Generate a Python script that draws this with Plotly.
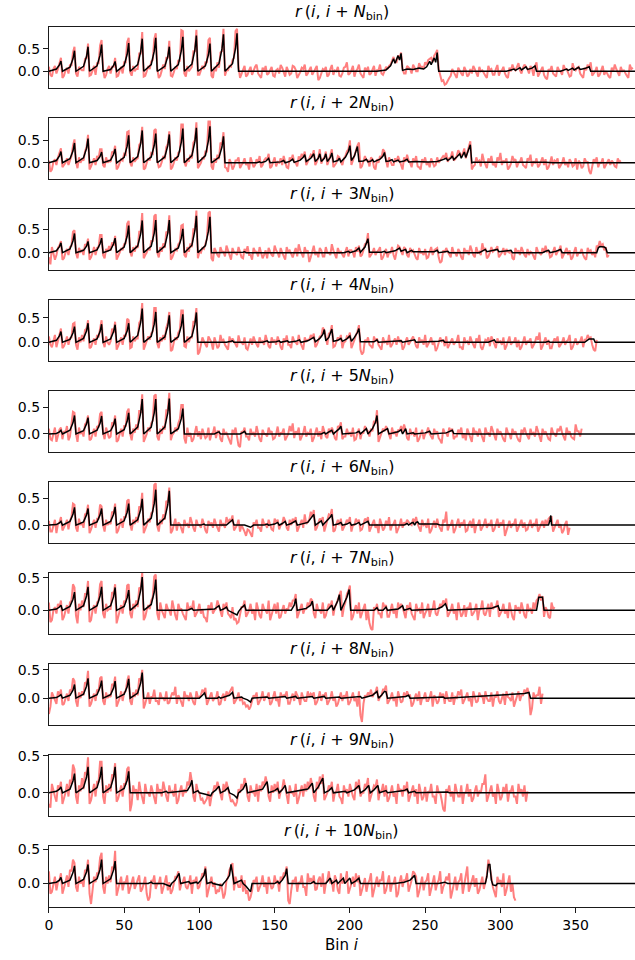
import plotly.graph_objects as go

# ---------------- red (noisy) series: values at even bins 0,2,4,... ----------------
red1 = [.10,-.12,.12,.05,.30,-.10,.08,.15,.42,-.05,.10,.02,.28,.62,-.08,.12,.18,.58,.05,-.08,
        .12,.10,.30,-.10,.10,.20,.65,-.02,.12,.05,.40,.88,-.10,.12,.22,.72,.05,-.10,.15,.30,
        .68,-.12,.10,.25,.92,-.05,.12,.05,.45,.93,-.08,.12,.20,.70,-.10,.10,.20,.42,.95,.02,
        .12,.25,.90,.10,-.05,.12,-.08,.10,.02,.15,-.10,.08,.12,-.05,.10,-.12,.05,.14,-.02,.10,
        -.08,.12,.03,-.10,.08,.15,-.05,.10,.00,.12,-.15,.05,.10,-.08,.14,.02,.10,-.12,.08,.20,
        -.05,.12,.00,.15,-.10,.08,.10,-.05,.12,.02,.15,-.08,.10,.12,.25,.20,.35,.42,-.05,.12,
        .05,.15,.00,.18,.10,.20,.25,.30,.35,.48,-.10,-.20,-.28,-.15,.05,-.10,.08,-.05,.10,-.12,
        .05,.12,-.05,.10,.02,-.10,.12,.05,-.08,.14,.00,.10,-.12,.08,.15,.02,.18,-.05,.15,.05,
        .12,-.10,.20,-.05,.10,-.15,.05,.12,-.08,.10,.00,.14,.05,-.12,.18,.02,.10,-.10,.08,.15,
        .20,-.05,.10,-.08,.12,.00,-.12,.08,.15,-.05,.10,.02,-.10,.15,.08]
red2 = [.05,-.15,.08,.12,.32,-.05,.10,.05,.38,.02,.12,.08,.25,.62,-.08,.10,.15,.30,-.05,.12,
        .05,.25,.38,-.10,.08,.20,.68,.00,.12,.08,.40,.80,-.12,.10,.22,.72,.05,-.08,.15,.35,
        .70,-.10,.12,.22,.85,.02,.10,.18,.45,.90,-.05,.12,.25,.92,-.08,.10,.18,.45,.68,-.12,
        .08,-.15,.05,.12,-.05,.10,.00,.12,-.10,.08,.15,-.05,.10,.20,-.08,.12,.02,.10,.15,-.10,
        .12,.18,.00,.14,.20,.25,.05,.18,.28,.02,.30,.08,.25,.05,.30,-.05,.15,.02,.10,.25,
        .50,.05,.30,.45,-.08,.15,.05,.12,-.10,.08,.15,.30,.05,.12,-.05,.10,.15,-.08,.12,.18,
        .00,.10,.15,-.10,.08,.12,.02,.10,-.08,.12,.05,.15,.22,.10,.25,.08,.28,.15,.32,.25,
        .48,-.08,.12,.05,.20,-.05,.10,.15,-.02,.12,.22,.05,.10,-.10,.15,.08,.00,.12,-.08,.10,
        .18,.02,.10,-.05,.12,.08,-.10,.14,.05,.10,-.05,.12,.02,.08,-.08,.10,.05,-.12,.10,.02,
        -.25,.08,.12,.00,.10,-.05,.08,.05,-.08,.10,.05]
red3 = [-.10,.12,-.15,.10,.25,-.12,.08,.12,.45,.00,.10,.05,.18,.30,-.10,.12,.10,.38,-.05,.08,
        .14,.22,.36,-.08,.10,.18,.62,.02,.12,.15,.45,.85,-.05,.10,.25,.78,.00,.12,.20,.45,
        .80,-.10,.08,.18,.58,-.05,.12,.20,.50,.90,.02,.10,.22,.85,-.12,.10,-.05,.12,.02,.15,
        -.08,.10,.00,.12,-.10,.08,.14,-.05,.10,.02,.12,-.12,.05,.10,-.05,.15,.00,.10,-.08,.12,
        .05,-.10,.10,.18,-.02,.12,.05,-.10,.15,.02,.10,-.08,.12,.00,.18,-.05,.10,.02,-.10,.12,
        .05,.00,.12,.15,-.05,.18,.42,-.05,.10,.02,.12,-.10,.08,.00,.12,-.15,.15,.05,.12,-.05,
        .10,.05,-.12,.10,.00,.08,-.10,.12,.05,.10,-.22,.05,.10,-.05,.12,.00,.08,-.10,.10,.05,
        .15,-.05,.12,.02,.20,.10,-.08,.12,.05,.14,-.05,.10,.08,.00,-.12,.10,.05,.12,-.05,.08,
        .02,-.10,.12,.00,.10,.15,.05,-.08,.12,.02,.15,-.05,.10,.05,-.10,.12,.00,.08,-.12,.10,
        .05,.02,.15,.25,.18,.12,-.05]
red4 = [.12,-.10,.15,.05,.28,-.08,.12,.08,.38,-.05,.10,.15,.25,.45,-.10,.08,.15,.30,.02,.12,
        -.05,.28,.42,-.08,.10,.15,.48,-.12,.12,.08,.40,.80,-.05,.12,.18,.70,-.02,.10,.15,.30,
        .62,-.15,.10,.20,.65,-.08,.12,.10,.42,.70,-.20,.10,-.05,.12,.00,.10,-.12,.15,.05,-.10,
        .12,.08,-.05,.14,.00,.10,-.15,.08,.12,-.05,.10,.02,.15,-.08,.10,.05,.12,-.10,.08,.14,
        -.05,.12,.00,.15,-.10,.10,.05,.15,.18,-.05,.12,.30,.05,.18,.35,-.08,.10,.15,.00,.12,
        .20,-.05,.15,.35,-.25,.05,.10,-.08,.12,.08,-.10,.10,.02,.15,-.05,.08,.12,.05,-.10,.10,
        .00,.12,-.08,.10,.05,.15,-.05,.10,.02,-.12,.10,.05,.12,-.05,.08,.00,.15,-.10,.10,.02,
        .12,-.05,.08,.15,-.15,.05,.10,.12,-.05,.08,.02,.10,-.08,.12,.00,.10,.05,-.10,.12,.02,
        .08,-.05,.12,.20,-.08,.10,.05,-.12,.08,.12,-.05,.10,.02,.15,-.10,.08,.00,.12,.05,.15,
        .10,-.15,.05]
red5 = [.10,-.12,.12,-.05,.12,.05,.15,-.05,.42,.00,.12,.05,.18,.35,-.10,.10,.15,.38,.02,.12,
        -.08,.22,.35,-.12,.10,.15,.42,.00,.10,.18,.45,.75,-.08,.12,.20,.72,-.05,.10,.15,.45,
        .78,-.02,.12,.20,.55,-.08,.12,.02,-.10,.15,.05,.10,-.08,.12,.00,.14,.05,-.10,.10,.02,
        -.15,.08,.12,-.22,.05,.12,-.05,.10,.02,.15,-.10,.08,.00,.12,.05,-.08,.14,.02,.10,-.05,
        .15,.20,.05,.12,-.05,.15,.02,.10,-.08,.12,.05,.15,-.05,.10,.12,-.08,.15,.22,-.05,.10,
        .02,.12,-.10,.10,.02,.15,.05,.10,.25,.45,-.05,.10,.15,-.02,.12,.05,.08,.15,.18,-.08,
        .10,.02,.12,-.10,.08,.00,.12,-.05,.10,.05,-.12,.10,.02,.12,.10,-.05,.08,.12,.00,.10,
        -.10,.12,.05,.10,-.08,.12,.02,.15,-.05,.10,.05,-.10,.12,.00,.10,.05,-.12,.08,.12,-.05,
        .10,.02,.15,-.08,.10,.05,-.10,.12,.00,.10,.15,-.05,.12,.05,-.08,.18,.05,.10]
red6 = [.08,-.12,.10,.02,.15,-.05,.10,.08,.40,-.05,.12,.05,.20,.38,-.08,.10,.12,.38,.00,.10,
        .05,.25,.40,-.10,.12,.15,.45,.02,.10,.15,.35,.60,-.08,.12,.22,.75,-.02,.10,.20,.45,
        .70,-.10,.12,.05,-.08,.10,.02,.15,-.05,.10,.00,.12,-.10,.08,.05,.12,-.05,.10,.02,.15,
        .10,.18,-.05,.10,.00,-.12,-.08,-.15,.05,.10,-.05,.12,.02,.10,-.08,.12,.10,.00,.15,-.05,
        .10,.12,.15,-.05,.10,.20,.05,.25,.28,-.05,.12,.15,-.02,.20,.30,-.10,.10,.12,-.05,.10,
        .15,.00,.12,.10,-.08,.12,.15,-.05,.10,.02,.12,-.10,.08,.15,.00,.10,-.08,.12,.05,.10,
        .02,.12,.15,-.05,.10,.02,.12,-.10,.08,.12,-.05,.10,.25,.00,.10,-.08,.12,.05,.10,-.10,
        .08,.12,.00,.10,-.05,.12,.02,.10,-.08,.12,.05,.10,-.12,.08,.02,.12,-.05,.10,.05,-.08,
        .10,.02,.12,-.05,.08,.10,.12,.15,-.05,.10,.02,-.10,.08,-.05]
red7 = [.12,-.15,.05,.10,.15,-.10,.08,.12,.40,-.08,.10,.15,.25,.45,-.15,.08,.12,.40,-.05,.10,
        .02,.28,.40,-.12,.08,.15,.38,-.05,.10,.15,.35,.58,-.10,.08,.15,.52,-.05,.12,-.05,.10,
        .00,.15,-.08,.10,.02,-.10,.12,.05,.15,-.05,.10,.02,-.12,.08,.12,.00,.15,-.05,.10,.12,
        -.08,.05,-.12,-.18,.05,.15,-.05,.10,.02,.12,-.08,.10,.00,.15,-.05,.10,.12,-.10,.08,.02,
        .12,.15,.25,-.05,.10,.02,.12,.18,-.05,.10,.00,.12,-.08,.10,.15,.05,.18,.30,.05,.25,
        .38,-.10,.08,.12,-.05,.10,.00,-.28,.05,.10,-.05,.12,.08,-.10,.10,.02,.12,.10,-.05,.08,
        .12,-.10,.10,.02,.12,-.05,.10,.00,.15,-.08,.10,.15,.18,-.05,.10,.02,.12,-.10,.08,.05,
        .12,-.05,.10,.00,.15,-.08,.10,.12,.05,.15,-.05,.10,.02,.12,-.10,.08,.05,.12,-.08,.10,
        .02,.12,.15,.25,.22,.05,-.10,.12,.05]
red8 = [-.28,.10,-.05,.12,.15,-.10,.08,.15,.35,-.05,.10,.12,.28,.48,-.10,.08,.15,.35,-.05,.10,
        .05,.25,.38,-.08,.12,.10,.30,-.05,.10,.15,.35,.50,-.10,.10,.02,.15,-.05,.10,.00,.12,
        -.08,.10,.20,.05,-.10,.12,.05,.10,-.08,.12,.02,.15,.18,-.05,.10,.00,.12,-.10,.08,.12,
        .10,.20,-.05,.10,.02,-.08,-.12,-.15,.05,.10,-.05,.12,.02,.10,-.08,.12,.00,.10,.05,.12,
        -.10,.08,.12,.00,.10,-.05,.12,.08,.10,-.08,.12,.05,.10,-.05,.12,.02,-.10,.10,.05,.12,
        -.08,.10,.00,.12,-.42,.05,.10,.15,.08,.20,.02,.15,.22,-.05,.10,.02,.12,-.08,.10,.12,
        .05,-.10,.08,.12,.00,.10,-.05,.12,.05,-.10,.10,.08,.12,-.05,.10,.02,.12,.15,-.05,.10,
        .00,.12,-.08,.10,.05,.12,-.05,.10,.02,.12,-.10,.08,.12,.00,.10,-.05,.12,.05,.15,.18,
        -.30,.10,.05,.20,.08]
red9 = [-.15,.12,-.05,.10,.15,-.08,.12,.18,.38,-.05,.10,.20,.28,.48,-.10,.12,.15,.42,-.05,.10,
        .12,.25,.40,-.08,.10,.12,.32,-.25,.10,.05,.15,-.05,.12,.00,.10,-.08,.12,.05,.15,-.05,
        .10,.02,.12,-.10,.10,.05,.15,.28,-.05,.12,.00,-.08,-.12,.02,-.05,.10,.15,.00,.12,.15,
        -.05,-.10,-.18,.05,.12,.20,-.05,.10,.02,.12,.10,.15,.22,-.05,.10,.12,.15,.02,.18,-.05,
        .10,.00,.12,-.08,.10,.12,.15,.20,-.05,.15,.22,.25,-.05,.10,.15,.00,.12,-.08,.10,.05,
        .12,-.05,.15,.18,.00,.12,.20,-.05,.10,.18,.02,.12,.10,-.08,.10,.00,.12,.05,.10,.15,
        -.05,.10,.05,.12,-.10,.08,.02,.12,-.05,.10,.00,-.22,.05,.10,.02,.12,-.05,.10,.00,.12,
        .05,-.08,.10,.02,.12,.25,-.05,.10,.00,.12,-.10,.08,.12,.02,.10,-.05,.12,.05,.10,.02]
red10 = [.18,-.12,.10,.02,.15,-.08,.12,.20,.35,-.05,.10,.05,.20,.35,-.30,.10,.15,.38,-.05,.10,
         .12,.25,.48,-.10,.10,.02,.12,-.05,.10,.00,.12,-.08,.10,-.25,.05,.12,.00,.10,-.08,.12,
         .02,-.10,.10,.18,.00,.10,-.08,.12,.05,.10,-.05,.15,.25,-.08,.10,.02,-.10,.00,-.22,.05,
         .20,.30,.10,-.05,.12,.05,-.10,-.20,.05,.10,-.05,.12,.02,.10,-.08,.12,.05,.10,.15,.25,
         -.30,.05,.10,.02,.12,-.05,.15,.08,.12,-.08,.10,.15,.00,.18,.05,.12,-.10,.15,.05,.18,
         -.08,.10,.15,.12,-.10,.08,.00,.15,-.12,.10,.05,.18,-.10,.12,.00,.10,-.15,.12,.05,.15,
         -.05,.18,.10,-.12,.10,.02,.15,-.10,.12,.00,.18,-.05,.10,.15,-.12,.10,.02,.15,.00,.25,
         -.05,.12,.08,-.10,.10,.05,.35,.10,-.15,.10,.05,.15,-.10,.12,.00,-.25]

# ---------------- red (noisy) series: values at odd bins 1,3,5,... ----------------
odd1 = [-.08,.05,-.05,.18,-.15,.02,-.05,.12,.55,-.12,.05,.02,.30,-.10,.02,-.08,.18,.70,-.15,.05,
        -.05,.10,-.12,.02,-.05,.20,.75,-.10,.00,.05,.40,-.12,.00,.05,.25,.85,-.15,.02,.05,.30,
        -.10,-.02,.05,.22,.90,-.12,.00,.10,.45,-.08,.02,.05,.20,.75,-.15,.00,.08,.45,-.10,.02,
        .10,.30,.95,-.15,.05,-.12,.02,-.08,.10,-.05,-.15,.00,-.08,.05,-.10,.02,-.05,.08,-.12,.00,
        -.05,.10,-.15,-.02,.05,-.10,.02,-.08,.05,-.20,-.05,.02,-.12,.05,-.08,.00,-.10,-.05,.10,-.08,
        .02,-.12,.05,-.05,-.15,.00,-.08,.05,-.10,.02,-.05,.00,.05,.15,.32,.20,.30,.05,-.05,.08,
        -.05,.08,.00,.10,.05,.15,.28,.20,.40,.05,-.22,-.30,-.20,-.10,-.02,-.15,.00,-.10,.02,-.08,
        -.05,.05,-.12,.00,-.05,-.15,.02,-.08,.05,-.10,.02,-.05,-.15,.00,.05,.10,.02,.08,.10,-.05,
        .05,.12,-.12,.00,-.08,-.18,.00,-.05,-.12,.02,-.08,.05,-.05,-.10,.05,.08,-.05,-.15,.02,.08,
        -.10,.00,-.12,.02,-.08,-.05,-.15,.00,.05,-.10,.00,-.05,-.15,.05]
odd2 = [-.20,.02,-.05,.20,-.10,.00,-.05,.15,.52,-.12,.00,.05,.35,-.15,.02,-.05,.10,.30,-.10,.00,
        .02,.22,-.15,.00,.05,.18,.70,-.08,.02,.10,.45,-.15,.00,.05,.20,.75,-.10,.02,.08,.42,
        -.15,.00,.05,.25,.85,-.08,.02,.10,.50,-.12,.00,.08,.25,.92,-.15,.00,.08,.40,-.10,-.20,
        .00,-.08,.05,-.12,.00,-.05,-.15,.02,-.05,.00,-.10,.05,.08,-.12,.02,-.08,.00,-.05,.02,-.12,
        .05,.02,-.08,.08,.12,-.05,.10,.15,-.05,.12,-.02,.12,-.05,.15,-.10,.00,.12,-.05,.15,.30,
        -.05,.18,.38,-.12,.02,.05,-.08,.08,-.15,.00,.10,.25,-.10,.05,-.05,.02,.05,-.15,.02,.05,
        -.10,.02,-.08,-.15,.00,-.05,-.10,.02,-.05,.00,.08,.12,.02,.12,.05,.15,.22,.20,.10,.35,
        -.15,-.05,.02,-.08,.05,-.12,.00,-.05,-.10,.05,-.05,.00,-.15,-.02,.05,-.10,.02,-.05,-.12,.05,
        -.08,.00,-.10,.02,-.05,-.15,.00,-.05,.02,-.12,.00,-.05,-.10,.02,-.05,-.15,.00,-.08,.02,-.18,
        -.05,.02,-.10,.00,-.12,.02,-.05,.00,-.10,.02]
odd3 = [-.25,.00,-.05,.15,-.15,.00,-.05,.15,.48,-.12,.02,-.05,.15,-.15,.00,-.05,.12,.38,-.12,.02,
        .05,.15,-.15,.00,.05,.20,.68,-.08,.02,.10,.45,-.12,.00,.05,.25,.82,-.10,.02,.10,.42,
        -.15,.00,.05,.22,.60,-.10,.02,.12,.50,-.12,.00,.08,.30,.88,-.18,.00,-.10,.02,-.08,.05,
        -.15,.00,-.05,.02,-.12,.00,-.05,-.15,.02,-.08,.00,-.05,-.12,.02,-.08,.05,-.10,.00,-.15,.02,
        -.05,.00,-.08,.05,-.10,.00,-.20,.02,-.05,-.10,.05,-.08,.00,-.05,.05,-.12,.00,-.05,.02,-.08,
        .05,-.10,.02,-.08,.05,.20,-.10,.00,-.05,.05,-.15,.02,-.10,.00,-.05,.02,.12,-.05,.08,-.10,
        .02,-.05,-.15,.00,-.05,-.12,.02,-.05,.08,-.10,-.18,.00,.02,-.10,.00,-.08,.02,-.15,.00,-.05,
        .02,-.10,.00,-.05,.05,-.12,.00,.02,.08,-.10,.00,-.05,.02,.05,-.15,.00,-.05,.02,-.10,-.05,
        .00,-.15,.02,-.05,.00,.02,-.10,.00,-.05,.05,-.12,.00,-.05,-.15,.02,-.08,.00,-.05,-.15,.02,
        -.05,-.10,.12,.15,.05,-.10]
odd4 = [-.05,.02,-.10,.18,-.12,.00,-.05,.10,.40,-.15,.00,.02,.28,-.12,.00,-.05,.10,.45,-.10,.00,
        .02,.20,-.15,.02,-.05,.12,.45,-.10,.02,.08,.45,-.15,.00,.05,.22,.70,-.12,.02,.05,.40,
        -.18,.00,.05,.25,.65,-.10,.00,.10,.42,-.25,-.05,.02,-.10,.05,-.15,.00,-.08,.02,-.05,-.15,
        .00,.02,-.10,.00,-.05,-.12,.00,-.05,.02,-.10,.00,-.05,.02,-.12,.00,-.05,.02,-.15,.00,-.05,
        -.12,.02,-.05,.00,-.15,.02,.05,.08,-.10,.05,.12,.25,-.05,.20,-.10,.00,.05,-.12,.02,.10,
        -.12,.05,.22,-.15,-.20,.00,-.05,-.12,.02,-.05,-.15,.00,-.05,-.10,.02,-.05,.00,-.15,.02,-.05,
        .05,.02,-.12,.00,-.05,-.10,.02,-.05,-.18,.00,.02,-.08,-.12,.00,-.05,.02,-.10,-.15,.00,-.05,
        .02,-.12,.00,-.10,-.05,.02,-.08,.05,-.12,.00,-.05,-.15,.02,-.05,.00,-.10,-.15,.00,-.05,.02,
        -.12,.00,.05,-.15,.00,-.05,-.12,.00,.02,-.10,.00,-.05,.05,-.15,.00,-.05,.02,-.10,.05,.08,
        -.05,-.18]
odd5 = [-.10,.02,-.15,.08,-.10,.02,-.12,.15,.40,-.15,.00,-.05,.22,-.12,.00,-.05,.12,.42,-.10,.02,
        -.05,.18,-.15,.00,-.05,.15,.48,-.12,.02,.08,.40,-.15,.00,.05,.25,.75,-.12,.00,.08,.45,
        -.12,.02,.05,.28,.55,-.18,-.05,-.15,.02,-.05,-.10,.00,-.05,-.12,.02,-.08,.05,-.15,.00,-.05,
        -.20,.00,-.10,-.25,.02,-.05,-.12,.00,-.05,.02,-.15,.00,-.05,.02,-.10,.00,-.05,.02,-.12,.00,
        .05,-.08,.00,-.12,.02,-.05,.00,-.15,.02,-.05,-.10,.05,-.08,.02,.05,-.12,.12,-.10,-.05,.00,
        -.05,-.12,.02,-.10,.02,.08,-.05,.05,.20,-.15,.00,.05,.08,-.10,.00,-.05,.05,.05,.08,-.12,
        .00,-.05,-.15,.00,-.10,.02,.00,-.10,.00,-.08,-.18,.02,-.05,.05,-.10,-.05,.02,-.08,-.12,.00,
        -.15,.02,-.05,.00,-.15,.02,-.05,.05,-.12,.00,-.05,-.15,.02,-.10,.00,-.05,-.15,.00,.02,-.10,
        .00,-.05,.05,-.15,.00,-.05,-.12,.02,-.05,.05,.02,-.12,.00,-.05,-.10,.05,-.05]
odd6 = [-.12,.00,-.15,.05,-.10,.02,-.08,.15,.38,-.12,.00,-.05,.22,-.15,.02,-.05,.12,.35,-.12,.00,
        .02,.22,-.15,.00,-.05,.15,.48,-.10,.02,.05,.32,-.15,.00,.05,.25,.78,-.12,.02,.10,.42,
        -.15,.00,-.10,.02,-.15,.00,-.05,.02,-.12,.00,-.05,.02,-.15,.00,-.05,.02,-.12,.00,-.05,.05,
        .08,-.10,.00,-.12,-.05,-.20,-.10,-.22,.00,-.05,-.12,.02,-.05,.00,-.10,.05,-.08,.02,.08,-.10,
        .00,.05,-.12,.02,-.05,.02,.10,.15,-.10,.02,.08,-.12,.05,.18,-.12,.02,.00,-.10,.02,.05,
        -.12,.00,.05,-.10,.02,.08,-.12,.00,-.05,-.15,.02,-.05,.00,-.10,.02,-.15,.00,-.05,.02,.05,
        .00,.05,.02,-.12,.00,-.05,-.15,.02,-.05,.00,-.12,.05,-.10,.00,-.15,.02,-.05,.00,-.12,.02,
        -.05,-.15,.00,-.10,.02,-.05,.00,-.12,.02,-.05,.00,-.20,.00,-.05,.02,-.12,.00,-.05,-.10,.02,
        -.05,.00,-.12,.02,-.05,.00,.15,-.12,.00,-.05,-.15,.02,-.18]
odd7 = [-.18,.00,-.05,.05,-.15,.00,-.05,.15,.35,-.20,.00,.05,.25,-.18,.00,-.05,.15,.45,-.12,.00,
        .02,.25,-.20,.00,-.05,.12,.40,-.12,.02,.05,.32,-.15,.00,.02,.20,.55,-.15,.00,-.12,.02,
        -.08,.00,-.15,.02,-.05,-.15,.00,.02,-.10,.00,-.05,-.10,-.18,.00,-.05,.02,.05,-.10,.02,-.05,
        -.12,-.15,-.20,-.05,.05,-.10,.00,-.05,-.15,.00,-.12,.02,-.05,-.15,.00,-.05,-.12,.00,-.05,.02,
        .05,.15,-.12,.00,-.05,.02,.05,.15,-.12,.00,-.05,-.12,.02,.05,-.08,.10,.25,-.10,.12,.30,
        -.15,.00,-.05,-.12,.00,-.15,-.20,-.30,.00,-.05,-.12,.05,-.10,.00,-.05,-.12,.02,.05,-.12,.00,
        -.05,-.15,.00,-.05,-.12,.00,-.10,.02,-.05,.00,.05,.10,-.10,.00,-.05,-.15,.00,-.05,-.10,.02,
        -.08,.00,-.15,.02,-.05,.00,-.10,.02,.05,-.10,.00,-.05,-.12,.00,-.15,.00,-.05,.02,-.12,.00,
        -.05,.02,.18,.15,-.10,.00,-.12,.02]
odd8 = [-.15,.02,-.10,.05,-.12,.00,-.05,.12,.30,-.15,.00,.05,.25,-.15,.00,-.05,.12,.38,-.12,.00,
        .02,.22,-.15,.00,-.05,.12,.40,-.12,.02,.05,.30,-.18,.00,-.10,.02,-.05,-.12,.00,-.05,-.10,
        .02,.05,-.10,.00,-.15,.02,-.05,.00,-.12,.02,.05,.10,-.12,.02,-.05,.00,-.12,.02,-.05,.05,
        .15,-.10,.00,-.05,-.10,-.15,-.20,-.05,.02,-.12,.00,-.05,.02,-.12,.00,-.05,-.15,.02,.05,-.10,
        .00,-.05,.05,-.12,.00,-.05,.02,.05,-.12,.00,-.05,.05,-.12,.00,-.05,-.15,.02,-.05,.00,-.12,
        .00,-.05,-.15,-.30,-.10,.02,.05,.02,.10,-.05,.05,.15,-.10,.00,-.05,-.15,.00,-.05,.02,.05,
        -.15,.00,-.05,-.12,.00,-.05,.02,-.15,.00,-.05,.02,-.10,.00,-.05,-.12,.00,.05,-.10,.02,-.05,
        -.15,.00,-.05,.02,-.10,.00,-.05,-.15,.02,-.05,.00,-.12,.02,-.05,-.15,.00,-.05,.05,.10,.05,
        -.18,.00,.05,-.10]
odd9 = [-.20,.02,-.12,.05,-.15,.00,-.05,.12,.32,-.15,.02,.05,.25,-.15,.00,-.05,.15,.42,-.15,.00,
        .02,.22,-.12,.00,-.05,.12,.35,-.15,.00,-.10,.02,-.15,.00,-.05,.02,-.15,.00,-.05,.02,-.12,
        .00,-.05,-.15,.02,-.05,.00,.10,.15,-.12,.02,-.10,-.15,-.08,-.18,.00,.05,.05,-.10,.02,.05,
        -.12,-.15,-.12,.00,.05,.12,-.12,.00,-.05,-.12,.02,.10,.12,-.12,.00,.02,-.08,.05,.08,-.15,
        .00,-.05,-.15,.00,-.05,.02,.05,.10,-.12,.05,.12,-.10,.00,.05,-.12,.02,-.05,-.15,.00,-.05,
        .02,-.10,.05,-.05,.00,.08,-.12,.02,.08,-.10,.02,-.05,-.12,.00,-.05,-.15,.02,-.05,.02,-.12,
        .00,-.05,-.15,.02,-.05,-.12,.00,-.05,-.15,.00,-.10,-.25,.00,-.05,-.12,.02,-.05,-.15,.00,-.05,
        -.12,.02,-.05,.00,.12,-.12,.00,-.05,-.15,.02,-.05,.00,-.12,.02,-.05,-.15,.00,-.05,-.12]
odd10 = [-.15,.02,-.10,.05,-.15,.02,-.05,.18,.30,-.12,.00,-.05,.18,-.15,-.05,.02,.15,.45,-.15,.00,
         .02,.20,-.18,.00,-.10,.02,-.15,.00,-.08,.05,-.12,.00,-.15,-.20,.02,-.08,.00,-.15,.02,-.10,
         -.15,.02,.10,-.10,.02,-.05,.00,-.15,.02,-.08,.05,.12,-.20,.00,-.05,-.15,-.12,-.08,-.15,.08,
         .25,-.10,.02,-.05,-.12,-.15,-.25,-.10,.02,-.12,.00,-.05,-.15,.02,-.05,.00,-.12,.05,.15,-.25,
         -.10,.02,-.12,.00,-.05,-.18,.02,.00,-.10,.05,-.05,-.15,.05,.00,-.12,.05,-.15,.00,.05,-.15,
         .00,-.05,.02,-.18,.00,-.12,.05,-.20,.00,-.05,.05,-.15,.02,-.12,.00,-.20,.02,-.05,.05,-.12,
         .05,.15,-.20,.00,-.10,.05,-.18,.02,-.10,.05,-.15,.00,.05,-.22,.00,-.10,.05,-.15,.10,-.12,
         .02,-.05,-.15,.00,-.08,.12,.25,-.05,-.20,.02,-.05,-.18,.02,-.12,-.20]

# ---------------- black (smoothed) series: (bin, value) breakpoints ----------------
blk1 = [(0,0),(5,.05),(7,.14),(8,.23),(9,0),(14,.09),(16,.28),(17,.46),(18,0),(23,.11),(25,.33),(26,.55),(27,0),
        (32,.12),(34,.36),(35,.60),(36,0),(41,.04),(43,.13),(44,.22),(45,0),(50,.13),(52,.38),(53,.63),(54,0),
        (59,.15),(61,.44),(62,.73),(63,0),(68,.15),(70,.45),(71,.75),(72,0),(77,.11),(79,.33),(80,.55),(81,0),
        (86,.15),(88,.46),(89,.77),(90,0),(95,.16),(97,.48),(98,.80),(99,0),(104,.12),(106,.37),(107,.62),(108,0),
        (113,.17),(115,.50),(116,.83),(117,0),(122,.17),(124,.51),(125,.85),(126,0),
        (218,0),(224,.03),(227,.12),(229,.28),(230,.18),(232,.35),(233,.25),(234,.40),(235,.02),(238,.05),
        (242,.04),(246,.07),(249,.05),(251,.10),(253,.22),(254,.15),(256,.30),(257,.20),(258,.42),(259,0),
        (274,0),(275,.01),(292,.01),(293,0),(304,0),(307,.03),(309,.05),(310,.02),(313,.08),(314,.03),
        (317,.10),(318,.04),(321,.07),(323,.12),(324,0),(340,0),(342,.03),(344,.05),(345,.02),(348,.07),
        (349,.03),(352,.09),(353,.04),(356,.06),(359,.10),(360,0),(390,0)]
blk2 = [(0,0),(5,.05),(7,.15),(8,.25),(9,0),(14,.09),(16,.26),(17,.44),(18,0),(23,.11),(25,.32),(26,.54),(27,0),
        (32,.05),(34,.14),(35,.24),(36,0),(41,.06),(43,.19),(44,.31),(45,0),(50,.12),(52,.37),(53,.61),(54,0),
        (59,.14),(61,.43),(62,.72),(63,0),(68,.13),(70,.39),(71,.65),(72,0),(77,.13),(79,.38),(80,.63),(81,0),
        (86,.15),(88,.46),(89,.76),(90,0),(95,.16),(97,.47),(98,.78),(99,0),(104,.16),(106,.49),(107,.81),(108,0),
        (113,.12),(115,.35),(116,.59),(117,0),
        (138,0),(140,.02),(141,0),(144,.03),(146,.10),(147,0),(154,.02),(156,.05),(157,0),(160,.03),(162,.08),
        (163,.01),(167,.06),(169,.12),(170,.18),(171,.03),(174,.10),(176,.20),(177,.03),(179,.10),(180,.20),
        (181,.03),(183,.10),(184,.20),(185,.03),(187,.12),(188,.22),(189,.02),(192,.05),(193,.10),(194,.02),
        (197,.12),(199,.25),(200,.38),(201,.05),(203,.15),(205,.36),(206,.03),(209,.04),(211,.08),(212,.02),
        (214,.04),(215,.07),(216,.02),(220,.08),(222,.15),(223,.23),(224,.03),(226,.04),(228,.07),(229,.02),
        (232,.06),(233,.02),(236,.04),(238,.08),(239,.02),(244,.03),(252,.02),(258,.03),(261,.06),(264,.10),
        (265,.05),(267,.10),(268,.15),(269,.07),(271,.13),(273,.20),(274,.10),(275,.18),(276,.24),(277,.12),
        (278,.22),(279,.30),(280,.40),(281,0),(282,.01),(330,.01),(335,0),(390,0)]
blk3 = [(0,0),(5,.04),(7,.13),(8,.21),(9,0),(14,.08),(16,.25),(17,.41),(18,0),(23,.05),(25,.14),(26,.24),(27,0),
        (32,.06),(34,.19),(35,.31),(36,0),(41,.06),(43,.19),(44,.31),(45,0),(50,.12),(52,.35),(53,.58),(54,0),
        (59,.14),(61,.41),(62,.69),(63,0),(68,.14),(70,.42),(71,.70),(72,0),(77,.14),(79,.42),(80,.70),(81,0),
        (86,.10),(88,.31),(89,.51),(90,0),(95,.16),(97,.47),(98,.79),(99,0),(104,.15),(106,.46),(107,.77),(108,0),
        (127,0),(129,.01),(130,.02),(131,0),(196,0),(198,.02),(199,.03),(200,0),(204,.04),(206,.10),(207,.01),
        (210,.12),(212,.30),(213,.01),(221,.01),(223,.03),(224,0),(230,.04),(232,.08),(233,.10),(234,.03),
        (236,.06),(237,.07),(238,0),(241,.05),(242,.02),(256,.02),(258,.05),(259,0),(265,.03),(266,0),(286,0),
        (289,.05),(290,.07),(291,.02),(295,.04),(298,.07),(299,.02),(304,.03),(307,.05),(308,0),(328,0),
        (330,.03),(332,.05),(333,0),(337,.03),(340,.07),(341,0),(364,0),(365,.10),(366,.13),(369,.12),
        (370,.10),(371,0),(390,0)]
blk4 = [(0,0),(5,.04),(7,.13),(8,.22),(9,0),(14,.06),(16,.19),(17,.32),(18,0),(23,.08),(25,.23),(26,.39),(27,0),
        (32,.07),(34,.22),(35,.37),(36,0),(41,.07),(43,.22),(44,.36),(45,0),(50,.08),(52,.23),(53,.39),(54,0),
        (59,.14),(61,.41),(62,.69),(63,0),(68,.12),(70,.37),(71,.62),(72,0),(77,.11),(79,.33),(80,.55),(81,0),
        (86,.11),(88,.34),(89,.57),(90,0),(95,.12),(97,.37),(98,.61),(99,0),
        (118,0),(121,.02),(122,.03),(123,0),(142,0),(145,.03),(146,0),(151,.01),(153,.03),(154,0),(157,.02),
        (158.5,.03),(159.5,0),(164,.02),(166.5,.05),(167.5,0),(172,.03),(174,.07),(176,.10),(177,.01),(180,.08),
        (182,.16),(183,.26),(184,.03),(186,.10),(188,.27),(189,.02),(192,.04),(194,.08),(195,.02),(198,.07),
        (200,.13),(201,.02),(203,.10),(205,.20),(206,.28),(207,.01),(216,.01),(218,.05),(219,0),(232,.02),
        (234,.03),(235,0),(241,.03),(243,.05),(244,0),(259,.02),(262,.04),(263,0),(292,0),(295,.03),(296,.05),
        (297,0),(330,0),(332,.02),(333,0),(356,0),(358,.05),(359,.07),(362,.07),(363,0),(390,0)]
blk5 = [(0,0),(5,.01),(7,.04),(8,.07),(9,0),(14,.07),(16,.21),(17,.35),(18,0),(23,.06),(25,.19),(26,.31),(27,0),
        (32,.07),(34,.20),(35,.34),(36,0),(41,.06),(43,.17),(44,.29),(45,0),(50,.08),(52,.24),(53,.40),(54,0),
        (59,.13),(61,.40),(62,.66),(63,0),(68,.13),(70,.40),(71,.66),(72,0),(77,.13),(79,.40),(80,.67),(81,0),
        (86,.10),(88,.29),(89,.48),(90,0),
        (110,0),(112,.03),(113,.04),(114,0),(127,0),(129,.03),(130,.05),(131,0),(181,0),(183,.03),(184,0),
        (186,.04),(188,.07),(189,0),(191,.05),(193,.10),(194,.15),(195,0),(204,.02),(206,.05),(207,0),
        (209,.05),(211,.10),(212,0),(215,.10),(217,.22),(218,.35),(219,0),(222,.05),(225,.10),(226,0),
        (232,.04),(234,.08),(235,0),(236,.05),(237,.10),(238,0),(242,.02),(243,0),(250,.02),(253,.05),(254,0),
        (264,.02),(266,.05),(268,.07),(269,.01),(280,0),(390,0)]
blk6 = [(0,0),(5,.01),(7,.04),(8,.07),(9,0),(14,.07),(16,.20),(17,.33),(18,0),(23,.06),(25,.19),(26,.31),(27,0),
        (32,.06),(34,.19),(35,.31),(36,0),(41,.07),(43,.20),(44,.34),(45,0),(50,.08),(52,.24),(53,.40),(54,0),
        (59,.10),(61,.29),(62,.49),(63,0),(68,.13),(70,.40),(71,.66),(72,0),(77,.13),(79,.38),(80,.64),(81,0),
        (101,0),(103,.02),(104,0),(118,0),(120,.05),(122,.10),(123,0),(130,0),(134,-.04),(136,0),(143,0),
        (145,.02),(146,0),(150,.02),(152,.05),(153,0),(155,.03),(157,.07),(158,0),(161,.03),(164,.08),(165,0),
        (172,.05),(175,.15),(176,.20),(177,0),(179,.04),(181,.08),(182,0),(185,.08),(187,.15),(188,.20),(189,0),
        (192,.02),(194,.05),(195,0),(198,.02),(200,.05),(201,0),(204,.02),(206,.05),(207,0),(210,.04),(212,.07),
        (213,0),(236,0),(238,.03),(239,0),(241,.04),(242,.05),(243,0),(244,.05),(245,.06),(246,.02),(250,.02),
        (258,.02),(260,0),(332,0),(333,.10),(333.5,.18),(334,0),(390,0)]
blk7 = [(0,0),(5,.02),(7,.05),(8,.08),(9,0),(14,.06),(16,.17),(17,.28),(18,0),(23,.07),(25,.22),(26,.36),(27,0),
        (32,.07),(34,.22),(35,.36),(36,0),(41,.07),(43,.21),(44,.35),(45,0),(50,.06),(52,.19),(53,.31),(54,0),
        (59,.10),(61,.31),(62,.51),(63,0),(68,.09),(70,.28),(71,.47),(72,0),
        (88,0),(90,-.01),(92,0),(94,.02),(95,.03),(96,0),(110,.02),(113,.07),(114,0),(116,.02),(118,.05),(119,0),
        (121,-.02),(123,-.04),(125,-.07),(126,-.02),(128,.04),(130,.08),(131,0),(161,0),(163,.08),(164,.18),
        (165,0),(171,.03),(174,.08),(175,.14),(176,0),(185,0),(187,.05),(188,.08),(189,0),(190,.05),(192,.15),
        (193,.24),(194,0),(196,.10),(198,.20),(199.5,.32),(200.5,0),(216,0),(218,.04),(219,0),(222,0),(224,.05),
        (225,0),(232,.02),(234,.05),(235,.07),(236,0),(240,.03),(241,0),(258,.02),(261,.05),(263.5,.10),(265,0),
        (294,.03),(298.5,.07),(299.5,0),(324,0),(325.5,.20),(328,.20),(329,0),(390,0)]
blk8 = [(0,0),(5,.01),(7,.04),(8,.06),(9,0),(14,.05),(16,.14),(17,.24),(18,0),(23,.07),(25,.21),(26,.35),(27,0),
        (32,.06),(34,.19),(35,.31),(36,0),(41,.06),(43,.18),(44,.30),(45,0),(50,.07),(52,.20),(53,.34),(54,0),
        (59,.09),(61,.27),(62,.45),(63,0),
        (86,0),(86.5,.01),(87,0),(100,0),(102,.05),(103.5,.09),(104.5,0),(112,0),(113,.02),(114,0),(120,.05),
        (122,.10),(123,0),(128,.02),(129,0),(132,-.03),(134,-.07),(135,0),(145,.02),(146,0),(157,.03),(158,0),
        (164,.03),(165,0),(175,.03),(176,0),(183,.03),(184,0),(193,.02),(194,0),(207,.03),(208,0),(215,.05),
        (218,.12),(219,0),(221,.05),(223,.12),(224,.11),(225,0),(237,.03),(239,.05),(240,0),(262,.02),(263,0),
        (316,.08),(318,.10),(319,.10),(320,0),(390,0)]
blk9 = [(0,0),(5,.02),(7,.05),(8,.08),(9,0),(14,.05),(16,.16),(17,.26),(18,0),(23,.07),(25,.21),(26,.35),(27,0),
        (32,.07),(34,.21),(35,.35),(36,0),(41,.07),(43,.21),(44,.35),(45,0),(50,.06),(52,.17),(53,.29),(54,0),
        (75,0),(78,.02),(79,0),(92,.03),(94,.10),(95,.17),(96,0),(99,.03),(100,0),(104,-.02),(107.5,-.04),
        (108.5,0),(111,.04),(113,.09),(114,0),(117,.03),(119,.07),(120,0),(123,-.03),(125,-.07),(126,0),
        (129,.05),(131,.13),(132,0),(142,.05),(145,.15),(146,0),(150,.03),(152,.06),(153,0),(155,.04),(157,.10),
        (158,0),(172,.05),(175,.13),(176,0),(179,.08),(182,.20),(183,0),(186,.03),(188,.07),(189,0),(197,.02),
        (198,0),(203,.04),(206,.10),(207,0),(210,.04),(212.5,.10),(213.5,0),(216,.04),(218.6,.10),(219.6,0),
        (224,.03),(225,0),(236,.03),(238,.05),(239,0),(243,.02),(244,0),(265,.01),(266,0),(390,0)]
blk10 = [(0,0),(5,.02),(7,.05),(8,.09),(9,0),(14,.05),(16,.16),(17,.26),(18,0),(23,.06),(25,.17),(26,.28),(27,0),
         (32,.07),(34,.21),(35,.35),(36,0),(41,.07),(43,.20),(44,.33),(45,0),
         (66,0),(68,.02),(69,0),(76,0),(78,-.02),(80.5,-.04),(81.5,0),(84,.05),(86.5,.15),(87.5,0),(91,.02),
         (93,.03),(94,0),(98,.02),(99,0),(101,.05),(103,.12),(104,.22),(105,0),(108,.02),(109,0),(113,-.02),
         (115,-.03),(116,0),(118,.05),(120,.12),(121,.28),(122,.15),(123,0),(126,.03),(128,.05),(129,0),
         (131,-.04),(134,-.12),(135,0),(150,0),(152,.03),(153,0),(155,.05),(157,.12),(158,.22),(159,0),(174,0),
         (176,.03),(177,0),(184,0),(187,.08),(188,0),(191,.05),(192,0),(194,.05),(195.6,.08),(196.6,0),(198,.04),
         (200,.08),(201,0),(204,.04),(206,.08),(207,0),(230,0),(236,.02),(240,.05),(243,.12),(244,0),(259,0),
         (263,.02),(265,0),(290,0),(291,.10),(292,.28),(293,.28),(294,.05),(295,-.02),(297,-.03),(298,0),(390,0)]

multipliers = ["", "2", "3", "4", "5", "6", "7", "8", "9", "10"]
x_ticks = [0, 50, 100, 150, 200, 250, 300, 350]
y_ticks = [0.0, 0.5]
y_tick_text = ["0.0", "0.5"]

reds_even = [red1, red2, red3, red4, red5, red6, red7, red8, red9, red10]
reds_odd = [odd1, odd2, odd3, odd4, odd5, odd6, odd7, odd8, odd9, odd10]
blacks = [blk1, blk2, blk3, blk4, blk5, blk6, blk7, blk8, blk9, blk10]
y_ranges = [(-0.375, 0.985), (-0.36, 0.99), (-0.37, 0.93), (-0.38, 0.86), (-0.34, 0.81),
            (-0.33, 0.80), (-0.36, 0.57), (-0.47, 0.60), (-0.31, 0.51), (-0.34, 0.55)]

W, H = 635, 960
X_LEFT = 48.9
TOP0, STEP, PH = 27.3, 90.97, 60.7
XMAX = (W - X_LEFT) / 1.505

tick_font = dict(family="DejaVu Sans", size=14, color="black")
fig = go.Figure()
layout = dict(width=W, height=H, margin=dict(l=0, r=0, t=0, b=0, autoexpand=False),
              paper_bgcolor="white", plot_bgcolor="white", showlegend=False,
              font=dict(family="DejaVu Sans", size=14, color="black"))
annotations = []

for k in range(10):
    sfx = "" if k == 0 else str(k + 1)
    even, odd = reds_even[k], reds_odd[k]
    last_x = 2 * (len(even) - 1)
    pts = [(2 * i, v) for i, v in enumerate(even)]
    pts += [(2 * i + 1, v) for i, v in enumerate(odd) if 2 * i + 1 < last_x]
    pts.sort()
    rx = [p[0] for p in pts]
    ry = [p[1] for p in pts]
    bx = [p[0] for p in blacks[k]]
    by = [p[1] for p in blacks[k]]
    fig.add_trace(go.Scatter(x=rx, y=ry, mode="lines", xaxis="x" + sfx, yaxis="y" + sfx,
                             line=dict(color="rgba(255,0,0,0.5)", width=2), hoverinfo="skip"))
    fig.add_trace(go.Scatter(x=bx, y=by, mode="lines", xaxis="x" + sfx, yaxis="y" + sfx,
                             line=dict(color="black", width=1.5), hoverinfo="skip"))
    top = TOP0 + STEP * k
    bot = top + PH
    dom = [1 - bot / H, 1 - top / H]
    last = (k == 9)
    layout["xaxis" + sfx] = dict(domain=[X_LEFT / W, 1], range=[0, XMAX], anchor="y" + sfx,
                                 automargin=False,
                                 showline=True, mirror=True, linecolor="#1a1a1a", linewidth=1,
                                 showgrid=False, zeroline=False,
                                 tickmode="array", tickvals=x_ticks,
                                 showticklabels=last, ticks="outside" if last else "",
                                 ticklen=5, tickwidth=1, tickcolor="#1a1a1a", tickfont=tick_font)
    layout["yaxis" + sfx] = dict(domain=dom, range=list(y_ranges[k]), anchor="x" + sfx,
                                 automargin=False,
                                 showline=True, mirror=False, linecolor="#1a1a1a", linewidth=1,
                                 showgrid=False, zeroline=False,
                                 tickmode="array", tickvals=y_ticks, ticktext=y_tick_text,
                                 ticks="outside", ticklen=5, tickwidth=1, tickcolor="#1a1a1a",
                                 tickfont=tick_font)
    title = ("<i>r</i>\u2009(<i>i</i>, <i>i</i> + " + multipliers[k]
             + "<i>N</i><sub>bin</sub>)")
    annotations.append(dict(text=title, xref="x" + sfx + " domain", yref="y" + sfx + " domain",
                            x=0.5, y=1, xanchor="center", yanchor="bottom", yshift=2,
                            showarrow=False, font=dict(family="DejaVu Sans", size=16, color="black")))

annotations.append(dict(text="Bin <i>i</i>", xref="x10 domain", yref="paper", x=0.5,
                        y=1 - 945 / H, xanchor="center", yanchor="middle", showarrow=False,
                        font=dict(family="DejaVu Sans", size=15, color="black")))
layout["annotations"] = annotations
fig.update_layout(**layout)
fig.write_html("out.html", config={"displayModeBar": False, "staticPlot": True},
               post_script="document.body.style.margin='0';document.body.style.overflow='hidden';")
